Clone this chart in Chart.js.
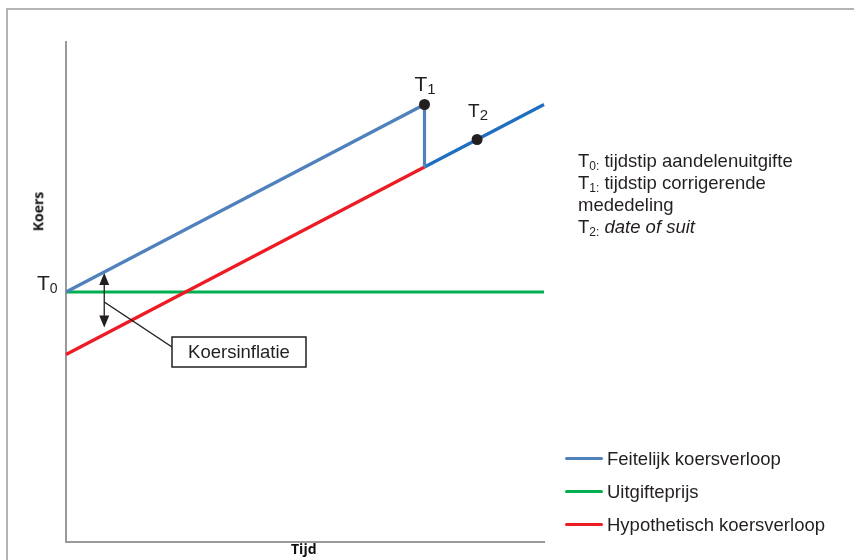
<!DOCTYPE html>
<html>
<head>
<meta charset="utf-8">
<script src="https://cdn.jsdelivr.net/npm/chart.js@4/dist/chart.umd.min.js"></script>
<style>
  html, body { margin: 0; padding: 0; background: #fff; }
  #wrap { position: relative; width: 854px; height: 560px; overflow: hidden; }
  #frame { position: absolute; left: 6px; top: 8px; width: 900px; height: 600px;
           border-top: 2px solid #b4b4b4; border-left: 2px solid #b4b4b4; box-sizing: border-box; }
  canvas { position: absolute; left: 0; top: 0; }
  .txt { position: absolute; font-family: "Liberation Sans", Arial, sans-serif; color: #231f20; white-space: nowrap; }
  #notes { left: 578px; top: 150px; font-size: 18.5px; line-height: 22px; }
  #notes sub { font-size: 12px; vertical-align: -3px; line-height: 0; }
  #legend { left: 565px; top: 442px; font-size: 18.5px; }
  .item { display: flex; align-items: center; height: 33px; }
  .swatch { width: 38px; height: 3px; border-radius: 2px; margin-right: 4px; }
  .title { position: absolute; font-family: "Open Sans", sans-serif; font-weight: bold; font-size: 14px; color: #111; }
</style>
</head>
<body>
<div id="wrap">
  <div id="frame"></div>
  <canvas id="c" width="854" height="560"></canvas>
  <div id="notes" class="txt">
    T<sub>0:</sub> tijdstip aandelenuitgifte<br>
    T<sub>1:</sub> tijdstip corrigerende<br>
    mededeling<br>
    T<sub>2:</sub> <i>date of suit</i>
  </div>
  <div id="legend" class="txt"></div>
  <div class="title" style="left:291px; top:539px;">Tijd</div>
  <div class="title" style="left:18px; top:202px; transform: rotate(-90deg); transform-origin: center;">Koers</div>
</div>
<script>
// Time axis runs from issue (0) to 10; price axis 0..10 (no ticks shown)
const seriesNames = ['Feitelijk koersverloop', 'Uitgifteprijs', 'Hypothetisch koersverloop'];
const seriesColors = ['#4f81bd', '#00b050', '#ed1c24'];

// Actual price: rises from issue price, drops at the corrective announcement
const actualX = [0, 7.5, 7.5];
const actualY = [5, 8.75, 7.5];
// Actual price after the announcement
const afterX = [7.5, 10];
const afterY = [7.5, 8.75];
const afterColor = '#1f6fc0';
// Issue price
const issueX = [0, 10];
const issueY = [5, 5];
// Hypothetical price without misleading information
const hypoX = [0, 7.5];
const hypoY = [3.75, 7.5];

// Marked moments
const eventLabels = ['1', '2'];
const eventX = [7.5, 8.6];
const eventY = [8.75, 8.05];
const startLabel = '0';

// Where the inflation arrow is drawn
const inflationX = 0.8;
const inflationText = 'Koersinflatie';

const pts = (xs, ys) => xs.map((x, i) => ({ x, y: ys[i] }));

const lineDs = (label, xs, ys, color) => ({
  label, data: pts(xs, ys), showLine: true, borderColor: color, backgroundColor: color,
  borderWidth: 3.2, pointRadius: 0, pointHoverRadius: 0, clip: false, tension: 0
});

// Earlier datasets are drawn on top
const datasets = [
  { label: 'events', data: pts(eventX, eventY), showLine: false, pointRadius: 5.5,
    pointBackgroundColor: '#231f20', pointBorderWidth: 0, clip: false },
  lineDs(seriesNames[0], actualX, actualY, seriesColors[0]),
  lineDs('after', afterX, afterY, afterColor),
  lineDs(seriesNames[2], hypoX, hypoY, seriesColors[2]),
  lineDs(seriesNames[1], issueX, issueY, seriesColors[1])
];

// Legend built from the series
const legend = document.getElementById('legend');
seriesNames.forEach((n, i) => {
  const d = document.createElement('div');
  d.className = 'item';
  d.innerHTML = '<span class="swatch" style="background:' + seriesColors[i] + '"></span>' + n;
  legend.appendChild(d);
});

function drawT(ctx, x, yBase, sub, big, small) {
  ctx.fillStyle = '#231f20';
  ctx.textBaseline = 'alphabetic';
  ctx.textAlign = 'left';
  ctx.font = big + 'px "Liberation Sans", Arial, sans-serif';
  ctx.fillText('T', x, yBase);
  const w = ctx.measureText('T').width;
  ctx.font = small + 'px "Liberation Sans", Arial, sans-serif';
  ctx.fillText(sub, x + w, yBase + 3);
}

const annotations = {
  id: 'annotations',
  afterDatasetsDraw(chart) {
    const { ctx, scales: { x, y } } = chart;
    ctx.save();
    // T0 next to the issue price on the axis
    drawT(ctx, 37, y.getPixelForValue(issueY[0]) - 2, startLabel, 21, 14);
    // T1, T2 above their points
    drawT(ctx, x.getPixelForValue(eventX[0]) - 10, y.getPixelForValue(eventY[0]) - 14, eventLabels[0], 21, 15);
    drawT(ctx, x.getPixelForValue(eventX[1]) - 9, y.getPixelForValue(eventY[1]) - 23, eventLabels[1], 19, 15);

    // Double-headed arrow between actual and hypothetical price
    const ax = x.getPixelForValue(inflationX);
    const slopeA = (actualY[1] - actualY[0]) / (actualX[1] - actualX[0]);
    const slopeH = (hypoY[1] - hypoY[0]) / (hypoX[1] - hypoX[0]);
    const top = y.getPixelForValue(actualY[0] + slopeA * inflationX) + 1;
    const bot = y.getPixelForValue(hypoY[0] + slopeH * inflationX) - 7;
    ctx.strokeStyle = '#231f20';
    ctx.fillStyle = '#231f20';
    ctx.lineWidth = 1.3;
    ctx.beginPath();
    ctx.moveTo(ax, top + 8); ctx.lineTo(ax, bot - 8);
    ctx.stroke();
    ctx.beginPath();
    ctx.moveTo(ax, top); ctx.lineTo(ax - 5, top + 12); ctx.lineTo(ax + 5, top + 12); ctx.closePath();
    ctx.moveTo(ax, bot); ctx.lineTo(ax - 5, bot - 12); ctx.lineTo(ax + 5, bot - 12); ctx.closePath();
    ctx.fill();

    // Callout box with leader line
    const bx = 172, by = 337, bw = 134, bh = 30;
    ctx.lineWidth = 1.5;
    ctx.beginPath();
    ctx.moveTo(ax, y.getPixelForValue(issueY[0]) + 10);
    ctx.lineTo(bx, by + 10);
    ctx.stroke();
    ctx.fillStyle = '#fff';
    ctx.fillRect(bx, by, bw, bh);
    ctx.strokeRect(bx, by, bw, bh);
    ctx.fillStyle = '#231f20';
    ctx.font = '18.5px "Liberation Sans", Arial, sans-serif';
    ctx.textAlign = 'center';
    ctx.textBaseline = 'middle';
    ctx.fillText(inflationText, bx + bw / 2, by + bh / 2 + 1);
    ctx.restore();
  }
};

const axisStyle = (fit) => ({
  type: 'linear', min: 0, max: 10,
  ticks: { display: false },
  grid: { display: false, drawTicks: false },
  border: { display: true, color: '#9a9a9c', width: 2 },
  afterFit: fit
});

new Chart(document.getElementById('c'), {
  type: 'scatter',
  data: { datasets },
  options: {
    responsive: false,
    animation: false,
    events: [],
    layout: { padding: { left: 66, top: 42, right: 310, bottom: 18 } },
    plugins: { legend: { display: false }, tooltip: { enabled: false } },
    scales: {
      x: axisStyle(s => { s.height = 0; }),
      y: axisStyle(s => { s.width = 0; })
    }
  },
  plugins: [annotations]
});
</script>
</body>
</html>
